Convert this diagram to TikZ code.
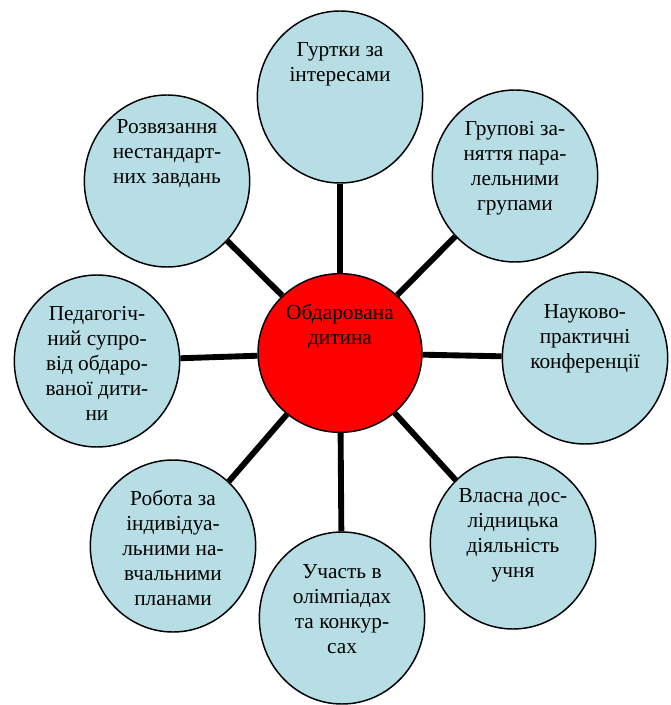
\documentclass[tikz,border=0pt]{standalone}
\usepackage{fontspec}
\setmainfont{Liberation Serif}
\usetikzlibrary{shapes.geometric, positioning}
\definecolor{bubble}{RGB}{183,222,228}
\definecolor{core}{RGB}{255,0,0}

\begin{document}
\begin{tikzpicture}[
    x=0.75pt, y=-0.75pt,
    topic/.style={draw, ellipse, line width=1.1pt, fill=bubble, minimum width=124pt, minimum height=129pt, inner sep=0pt},
    kid/.style={draw, ellipse, line width=1.1pt, fill=core, minimum width=123pt, minimum height=119pt, inner sep=0pt},
    caption/.style={align=center, inner sep=0pt, font=\rmfamily\fontsize{16}{18.75}\selectfont},
    link/.style={line width=4.4pt}
]
    \useasboundingbox (0,0) rectangle (670,705);

    % Centre
    \node (hub) [kid] at (340,353) {};

    % Topics
    \node (clubs) [topic] at (340,97) {};
    \node (groups) [topic] at (515,176) {};
    \node (conf) [topic] at (585,358) {};
    \node (research) [topic] at (513,543) {};
    \node (olymp) [topic] at (342,618) {};
    \node (plans) [topic] at (173,546) {};
    \node (support) [topic] at (97,361) {};
    \node (tasks) [topic] at (167,181) {};

    % Links
    \draw[link] (hub) -- (clubs);
    \draw[link] (hub) -- (groups);
    \draw[link] (hub) -- (conf);
    \draw[link] (hub) -- (research);
    \draw[link] (hub) -- (olymp);
    \draw[link] (hub) -- (plans);
    \draw[link] (hub) -- (support);
    \draw[link] (hub) -- (tasks);

    % Captions
    \node (hub-t) [caption, below=23pt of hub.north] {Обдарована\\дитина};
    \node (clubs-t) [caption, below=24pt of clubs.north] {Гуртки за\\інтересами};
    \node (groups-t) [caption, below=24pt of groups.north] {Групові за-\\няття пара-\\лельними\\групами};
    \node (conf-t) [caption, below=25pt of conf.north] {Науково-\\практичні\\конференції};
    \node (research-t) [caption, below=24pt of research.north] {Власна дос-\\лідницька\\діяльність\\учня};
    \node (olymp-t) [caption, below=25pt of olymp.north] {Участь в\\олімпіадах\\та конкур-\\сах};
    \node (plans-t) [caption, below=23pt of plans.north] {Робота за\\індивідуа-\\льними на-\\вчальними\\планами};
    \node (support-t) [caption, below=24pt of support.north] {Педагогіч-\\ний супро-\\від обдаро-\\ваної дити-\\ни};
    \node (tasks-t) [caption, below=19pt of tasks.north] {Розвязання\\нестандарт-\\них завдань};
\end{tikzpicture}
\end{document}
